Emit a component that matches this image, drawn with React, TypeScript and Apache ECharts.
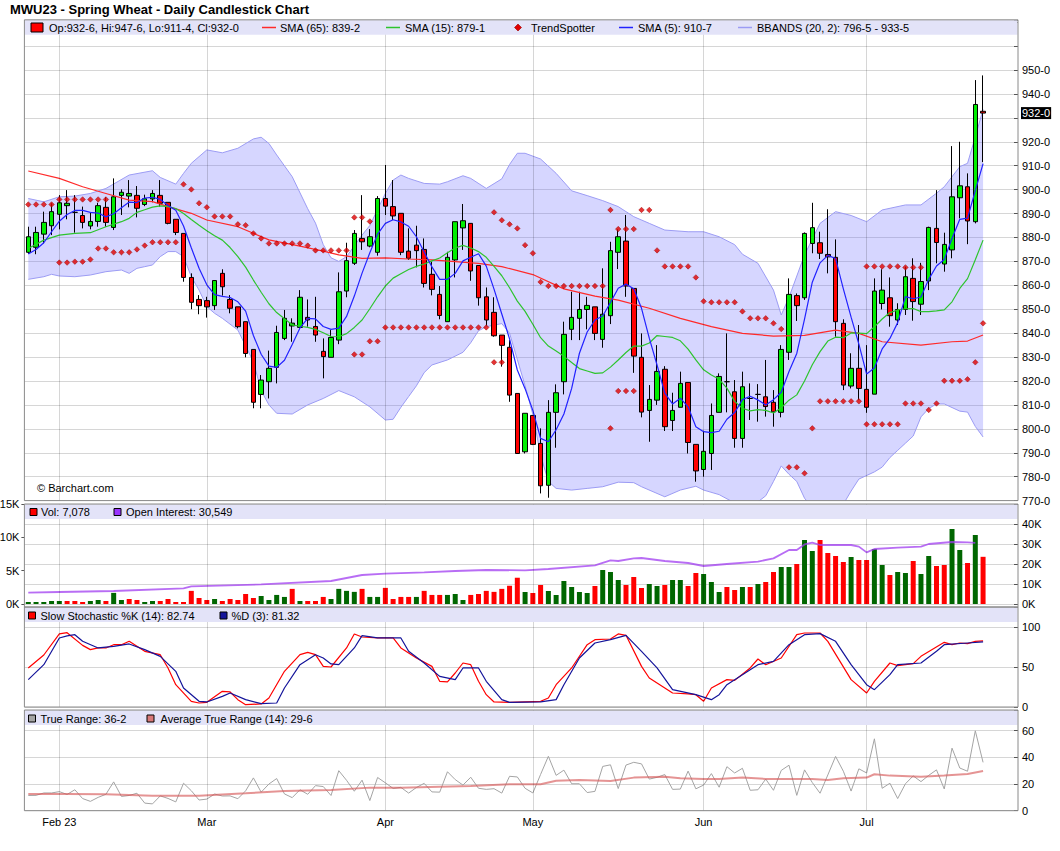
import React, { useEffect, useRef } from "react";
import * as echarts from "echarts";

// ---------- categories (trading days) ----------
const janDays = [26, 27, 30, 31];
const febDays = [1, 2, 3, 6, 7, 8, 9, 10, 13, 14, 15, 16, 17, 21, 22, 23, 24, 27, 28];
const marDays = [1, 2, 3, 6, 7, 8, 9, 10, 13, 14, 15, 16, 17, 20, 21, 22, 23, 24, 27, 28, 29, 30, 31];
const aprDays = [3, 4, 5, 6, 10, 11, 12, 13, 14, 17, 18, 19, 20, 21, 24, 25, 26, 27, 28];
const mayDays = [1, 2, 3, 4, 5, 8, 9, 10, 11, 12, 15, 16, 17, 18, 19, 22, 23, 24, 25, 26, 30, 31];
const junDays = [1, 2, 5, 6, 7, 8, 9, 12, 13, 14, 15, 16, 20, 21, 22, 23, 26, 27, 28, 29, 30];
const julDays = [3, 5, 6, 7, 10, 11, 12, 13, 14, 17, 18, 19, 20, 21, 24, 25];
const padDates = ["2023-07-26", "2023-07-27", "2023-07-28", "2023-07-31"];
const monthLabels = ["Feb 23", "Mar", "Apr", "May", "Jun", "Jul"];

// ---------- price data ----------
const opens = [873.8,875.9,881.4,884.9,889.7,893.3,890.5,889.2,884.8,886.7, 892.6,884.2,897.6,897.3,897.6,893.8,896.1,897.6,894.7,887.6, 881.7,863.3,854.1,853.6,851.5,865.0,854.1,851.0,844.8,833.2, 814.4,819.7,825.7,837.8,843.0,842.4,846.6,842.8,832.4,829.9, 837.1,857.6,869.2,879.6,876.4,873.8,896.3,892.9,890.1,874.3, 876.8,875.0,864.6,856.2,844.8,870.6,884.0,885.9,868.3,855.2, 848.7,839.2,834.1,814.8,790.4,805.6,793.9,776.4,806.9,819.7, 841.6,846.2,849.9,851.0,837.4,847.3,873.8,878.5,858.7,829.9, 807.7,812.0,824.9,803.5,809.0,819.4,793.5,783.0,789.7,806.9, 819.7,815.5,796.0,812.7,814.4,813.4,811.1,806.9,832.0,855.7, 854.8,877.5,877.8,872.9,871.7,844.1,817.9,825.3,816.5,814.5, 852.4,854.8,845.5,849.9,862.9,852.1,861.8,883.8,868.9,874.8, 896.6,901.2,886.6,932.75];
const highs = [884.5,884.5,890.8,894.3,897.7,899.8,897.7,892.9,890.4,894.5, 896.8,904.7,900.1,904.0,901.5,897.9,899.8,904.0,894.7,887.6, 881.7,865.0,855.9,855.2,862.2,866.7,855.9,851.0,844.8,833.2, 822.5,832.7,843.1,849.7,846.2,858.0,854.1,855.2,837.8,841.3, 865.4,877.8,883.1,897.7,883.5,897.3,910.3,904.0,890.1,883.8, 884.9,879.6,869.9,859.7,874.0,886.6,894.0,885.9,868.3,859.1, 855.0,839.2,837.1,814.8,806.5,805.6,800.2,812.0,818.6,844.8, 857.3,857.3,855.2,851.0,867.1,878.2,883.4,889.4,858.7,839.9, 818.3,835.0,826.2,815.1,823.9,819.4,793.5,799.2,810.6,823.2, 839.9,820.4,823.9,819.0,818.7,828.8,816.2,835.0,862.9,856.6, 882.1,894.5,882.4,891.8,879.2,845.8,831.6,843.4,835.0,862.9, 866.7,863.3,852.5,867.8,871.3,869.4,884.5,899.8,882.0,918.2, 920.0,906.8,945.8,947.75];
const lows = [873.1,873.0,877.5,881.0,883.4,887.6,882.0,883.8,883.4,884.5, 884.5,883.1,889.4,892.6,888.4,893.1,894.7,892.9,885.5,881.0, 861.5,850.0,847.9,846.5,849.7,855.7,848.3,842.0,829.9,808.6, 808.6,812.7,819.0,837.1,836.4,842.3,842.7,836.4,821.1,829.9, 835.4,855.0,868.5,874.8,875.9,872.4,889.4,887.3,872.6,870.6, 867.5,859.1,855.8,845.8,844.8,863.3,874.8,861.9,851.5,843.1, 838.5,826.0,811.3,789.5,789.7,793.2,773.0,771.2,792.1,814.4, 837.1,837.1,841.6,837.1,833.9,843.8,866.8,855.2,823.4,804.8, 794.6,810.0,799.1,799.1,809.0,789.7,777.9,780.0,782.8,806.9, 806.9,792.1,792.1,803.7,803.0,805.1,800.9,804.8,828.8,845.1, 853.9,873.4,871.0,865.0,838.5,816.2,816.9,812.0,806.7,814.5, 849.9,842.7,843.4,847.6,845.2,847.6,858.0,869.2,865.7,871.3, 888.0,877.2,885.9,911.5];
const closes = [880.3,882.1,886.3,890.8,894.5,894.3,890.5,886.3,886.7,893.3, 886.3,897.0,898.9,898.4,892.2,896.2,898.4,894.3,885.9,882.1, 863.3,852.9,851.5,851.0,862.0,859.4,850.4,842.7,831.5,811.1, 820.4,825.3,840.3,846.2,844.2,855.0,845.5,839.2,830.2,838.2, 857.3,870.3,881.7,878.2,880.3,896.3,893.1,889.0,873.8,871.3, 874.5,860.8,858.3,847.4,871.7,886.6,887.0,866.0,854.8,845.5, 838.9,834.9,814.1,789.7,806.5,793.5,776.2,806.9,815.1,839.5, 846.6,849.9,851.6,839.9,847.9,874.5,880.3,859.7,830.4,807.0, 812.3,824.0,800.9,807.7,819.0,794.3,782.4,790.6,805.6,821.9, 819.7,796.0,817.6,812.7,814.4,809.3,807.1,833.2,856.2,851.5, 881.7,884.1,873.4,871.9,844.8,818.3,825.3,816.9,809.0,857.6, 858.0,847.3,849.9,863.6,853.2,861.6,884.2,877.9,877.1,897.0, 901.6,886.9,935.6,932.0];

// ---------- studies on price ----------
const sma5 = [873.1,875.0,877.8,882.4,886.8,889.6,891.3,891.3,890.5,890.2, 888.6,889.9,892.4,894.8,894.6,896.5,896.8,895.9,893.4,891.4, 884.8,875.7,867.1,860.2,856.1,855.4,854.9,853.1,849.2,839.0, 831.2,826.2,825.7,828.7,835.3,842.2,846.2,846.0,842.8,841.6, 842.1,847.0,855.5,865.1,873.6,881.4,885.9,887.4,886.5,884.7, 880.3,873.9,867.7,862.5,862.5,865.0,870.2,871.7,873.2,868.0, 858.4,848.0,837.6,824.6,816.8,807.7,796.0,794.6,799.6,806.2, 816.9,831.6,840.5,845.5,847.2,852.8,858.8,860.5,858.6,850.4, 837.9,826.7,814.9,810.4,812.8,809.2,800.9,798.8,798.4,799.0, 804.0,806.8,812.2,813.6,812.1,810.0,812.2,815.3,824.0,831.5, 845.9,861.3,869.4,872.5,871.2,858.5,846.7,835.4,822.9,825.4, 833.4,837.8,844.4,855.3,854.4,855.1,862.5,868.1,870.8,879.6, 887.6,888.1,899.6,910.9];
const sma15 = [875.4,null,878.9,null,881.0,null,881.7,null,882.0,null, 884.5,null,886.6,888.0,890.5,891.6,892.7,893.2,892.9,892.1, 890.0,887.5,885.1,882.8,880.7,878.9,875.8,872.0,867.6,862.2, 857.1,852.3,848.6,846.0,843.5,842.9,842.4,841.6,840.2,838.6, 838.5,839.8,842.4,845.5,850.2,855.2,859.7,863.0,864.8,866.6, 867.9,868.9,870.2,871.4,873.6,875.6,876.7,875.6,874.1,871.7, 867.9,864.0,859.0,853.4,849.1,843.7,838.1,834.6,832.5,830.3, 827.7,825.2,824.2,823.2,823.4,825.8,828.8,831.9,834.6,834.6, 835.9,839.0,838.6,838.2,836.8,833.3,828.8,824.7,822.5,820.7, 817.0,811.5,808.6,807.5,808.0,807.7,806.6,808.8,812.0,814.2, 820.0,826.8,832.3,836.7,838.3,838.1,840.1,840.0,839.8,842.7, 845.9,848.6,849.7,850.2,850.3,849.0,849.0,849.3,849.7,853.1, 858.7,862.8,870.7,878.9];
const sma65 = [[0,907.8],[4,904.7],[7,901.2],[10,898.4],[13,895.6],[16,895.0],[18,892.9],[21,890.1],[23,887.3],[27,884.5],[31,879.0],[35,876.4],[38,874.3],[40,872.7],[43,871.3],[46,871.5],[49,871.0],[52,870.6],[55,869.9],[58,869.2],[61,867.8],[65,864.5],[69,858.5],[73,855.5],[76,853.8],[80,850.4],[84,846.2],[88,842.7],[92,839.9],[96,838.8],[100,839.1],[104,841.3],[107,839.9],[110,836.4],[115,835.0],[119,836.4],[121,836.7],[123,839.25]];
const bbUpper = [[0,896.3],[2,894.9],[4,897.0],[6,897.3],[8,898.4],[10,900.5],[13,906.1],[16,907.9],[17,905.1],[19,902.3],[20,906.8],[21,911.0],[23,916.6],[25,915.4],[27,917.3],[29,921.2],[30,921.9],[31,919.3],[32,914.5],[34,905.4],[36,892.0],[37,886.0],[38,877.0],[39,871.5],[40,870.0],[41,872.0],[42,876.5],[43,881.0],[44,885.0],[46,898.4],[47,904.0],[48,906.1],[49,904.7],[51,902.6],[53,902.3],[54,903.3],[56,905.8],[57,904.7],[59,900.5],[61,904.5],[62,910.5],[63,915.2],[64,915.2],[66,912.8],[68,906.8],[70,899.5],[72,897.5],[74,895.4],[76,892.9],[78,888.7],[80,885.9],[82,883.1],[85,882.4],[87,882.4],[89,880.3],[91,877.0],[92,873.0],[94,869.2],[96,858.0],[97,847.6],[98,855.0],[100,872.7],[102,885.9],[104,890.8],[106,889.2],[108,886.6],[110,891.5],[113,893.6],[115,893.6],[117,898.5],[118,901.2],[120,909.6],[121,911.0],[122,922.1],[123,933.5]];
const bbLower = [[0,862.5],[2,863.6],[3,864.6],[4,863.9],[6,863.6],[8,864.3],[10,865.7],[12,866.4],[13,865.0],[14,867.1],[15,867.8],[16,868.5],[17,872.0],[18,874.1],[19,874.1],[20,872.0],[21,863.6],[22,858.0],[23,851.1],[24,848.3],[25,846.2],[27,841.3],[29,828.0],[30,816.0],[31,810.0],[32,806.5],[34,806.2],[36,810.0],[38,812.7],[40,816.0],[42,813.4],[44,809.2],[46,803.7],[47,804.0],[48,809.0],[49,813.5],[50,818.0],[51,823.5],[52,826.7],[54,828.8],[56,832.0],[57,836.0],[58,841.0],[59,842.7],[61,844.0],[62,840.0],[63,829.0],[64,818.0],[65,806.0],[66,789.0],[67,778.0],[68,775.1],[70,774.4],[72,775.1],[74,775.8],[76,777.7],[78,777.5],[79,775.8],[82,771.6],[84,774.4],[86,776.0],[87,774.4],[89,772.5],[91,769.0],[92,768.0],[93,768.5],[94,769.5],[95,772.0],[96,778.0],[97,784.5],[98,781.0],[99,778.0],[100,771.0],[101,767.0],[103,765.0],[104,766.0],[105,768.5],[106,774.0],[107,779.0],[109,782.0],[110,784.0],[111,788.0],[112,791.0],[113,794.0],[114,797.0],[115,805.0],[116,808.5],[117,810.4],[118,810.4],[120,807.4],[121,807.0],[122,801.0],[123,796.6]];
const trendA = [893.8,893.8,893.8,893.8,895.9,895.9,895.9,895.9,895.9,895.9, 895.9,873.8,873.8,873.8,875.0,876.6,878.0,878.0,878.0,878.0, 902.2,900.1,894.3,892.6,888.8,888.8,888.8,885.5,885.1,881.7, 879.6,877.5,877.5,877.5,877.5,877.5,876.6,874.6,874.6,874.6, 874.6,874.6,888.4,888.4,886.7,836.6,842.4,842.4,842.4,842.4, 842.4,842.4,842.4,842.4,842.4,842.4,842.4,842.4,842.4,842.4, 890.5,887.2,885.5,883.8,876.8,873.4,861.4,859.7,859.7,859.7, 859.7,859.7,859.7,859.7,859.7,891.5,883.5,883.5,883.5,891.5, 891.5,874.6,867.9,867.9,867.9,867.9,863.3,853.3,852.9,852.9, 852.9,852.9,849.1,846.2,846.2,846.2,844.1,841.7,783.9,783.9, 781.4,800.2,811.5,811.5,811.5,811.5,811.5,811.5,867.9,867.9, 867.9,867.9,867.9,867.5,867.5,867.5,807.9,810.6,820.1,820.1, 820.1,820.7,827.8,844.1];
const trendB = [[4,869.5],[5,869.5],[6,869.9],[7,869.9],[8,870.8],[9,875.4],[10,875.4],[42,831.1],[43,831.1],[44,836.6],[60,827.8],[61,827.8],[75,800.2],[76,815.8],[77,815.8],[78,815.8],[108,801.9],[109,801.9],[110,801.9],[111,801.9],[112,801.9],[113,810.6],[114,810.6],[115,810.6]];

// ---------- volume / open interest ----------
const volume = [300,300,300,450,450,450,450,300,450,600, 450,1670,600,750,600,300,450,450,750,300, 300,1970,900,600,750,450,750,600,1500,900, 1200,600,1360,1060,2270,450,450,450,1060,750, 2270,1970,1820,2270,1060,1060,2420,750,1060,1060, 1060,1970,1360,1360,1360,1500,600,1360,1500,1970, 1820,2270,2730,3940,1800,1650,2850,1950,1350,3450, 2550,1800,1650,2700,5100,4800,3600,2850,4050,2400, 3000,2700,2850,3600,3600,2700,4650,4500,3300,1800, 2550,2100,2550,2550,3000,3300,4800,5550,5550,6000, 9600,7950,9600,7650,7200,6300,7050,6600,6600,8250, 5850,4350,4800,4650,6450,4500,7200,5700,5850,11250, 8100,6150,10350,7078];
const openInterest = [[0,5700],[4,6000],[11,6500],[20,7800],[21,8800],[30,9800],[39,11500],[43,14500],[46,15200],[51,15800],[55,16500],[59,17000],[64,16800],[67,17500],[73,19300],[75,21800],[76,21500],[78,22800],[79,23000],[82,21500],[85,20500],[87,19000],[90,20000],[94,21200],[96,22800],[98,27000],[99,27000],[100,29800],[101,30700],[102,29500],[104,29500],[106,29500],[107,28700],[108,25800],[109,27500],[112,28200],[115,28700],[116,30000],[119,31000],[121,30800],[122,30549]];

// ---------- slow stochastic ----------
const stochK = [[0,48.8],[2,65],[4,91.3],[5,92.9],[7,77],[8,71.7],[9,73.8],[10,73.8],[11,77.9],[12,77.9],[13,82.1],[15,69.6],[17,65.4],[18,48.8],[19,27.9],[21,7.1],[22,5],[23,5.8],[25,19.6],[26,18.8],[27,9.2],[28,2.9],[30,3.8],[31,11.3],[33,44.6],[35,65.4],[36,68.3],[37,65.4],[38,50.8],[39,50],[41,73.8],[42,91.3],[43,87.5],[45,86.3],[47,86.3],[48,73.8],[50,61.3],[52,50.8],[53,32.1],[54,31.3],[55,42.5],[56,55],[57,52.9],[58,32.1],[59,15.4],[60,6.3],[62,5.8],[66,7.1],[67,11.3],[68,27.9],[70,48.8],[72,77.9],[73,84.2],[75,85],[76,91.3],[77,89.6],[79,50.8],[80,36.3],[83,17.5],[85,16.3],[86,15.4],[87,7.1],[88,23.8],[90,34.2],[91,33.3],[93,48.8],[94,60],[95,52.9],[97,61.3],[99,90.4],[100,92.5],[102,92.5],[103,82.1],[106,34.2],[108,17.5],[109,32.1],[111,55],[112,51.7],[114,54.2],[115,63.3],[118,80.8],[119,77.9],[120,80],[121,79.2],[122,82.1],[123,82.74]];
const stochD = [[0,34.2],[2,52.9],[4,86.3],[5,89],[6,90.4],[7,82.1],[9,73.8],[11,75.8],[13,78.8],[15,71.7],[17,63.3],[19,44.6],[20,23.8],[22,7.1],[23,6.3],[25,13.3],[26,17.5],[28,9.2],[30,4.2],[32,5],[33,23.8],[35,52.9],[37,65.4],[38,61.3],[39,53.8],[40,52.9],[42,73.8],[43,89.2],[45,86.3],[48,86.3],[49,69.6],[51,55],[53,38.3],[55,34.2],[56,48.8],[58,48.8],[59,32.1],[61,9.2],[62,5.8],[66,6.3],[68,9.2],[69,27.9],[71,61.3],[73,80],[75,84.2],[77,89.6],[79,69.6],[81,48.8],[83,21.7],[86,15.4],[88,9.2],[89,15.4],[90,27.9],[92,40.4],[94,52.9],[96,57.1],[98,77.9],[100,90.4],[102,91.7],[104,82.1],[106,52.9],[108,27.9],[109,21.7],[111,40.4],[112,52.9],[115,55],[117,69.6],[118,77.9],[121,80],[123,81.32]];

// ---------- true range / ATR ----------
const trueRange = [11.4,11.5,13.3,13.3,14.3,12.2,15.7,9.1,7.0,10.0, 12.3,21.6,10.7,11.4,13.1,5.7,5.1,11.1,9.2,6.6, 20.6,15.0,8.0,8.7,12.5,11.0,11.1,9.0,14.9,24.6, 13.9,20.0,24.1,12.6,9.8,15.7,12.3,18.8,18.1,11.4, 30.0,22.8,14.6,22.9,7.6,24.9,20.9,16.7,17.5,13.2, 17.4,20.5,14.1,13.9,29.2,23.3,19.2,25.1,16.8,16.0, 16.5,13.2,25.8,25.3,16.8,13.3,27.2,40.8,26.5,30.4, 20.2,20.2,13.6,14.5,33.2,34.4,16.6,34.2,36.3,35.1, 23.7,25.0,27.1,16.0,16.2,29.7,16.4,19.2,27.8,17.6, 33.0,28.3,31.8,15.3,15.7,23.7,15.3,30.2,34.1,11.5, 30.6,21.1,13.1,26.8,40.7,29.6,14.7,31.4,28.3,53.9, 16.8,20.6,9.1,20.2,26.1,21.8,26.5,30.6,16.3,46.9, 32.0,29.6,59.9,36.25];
const atr = [[0,12.5],[5,12.5],[10,12.3],[16,11.3],[22,11.3],[28,13],[33,14.8],[39,15.5],[44,17.3],[48,17.3],[53,18],[57,18.5],[62,19.8],[66,19.8],[68,22.5],[71,23],[75,22.3],[78,24.8],[82,25.5],[84,24.3],[87,23.8],[89,23.8],[92,24.8],[95,23.8],[97,23.8],[101,23.8],[103,23],[105,24.3],[108,24.8],[109,27.3],[111,26.3],[115,25.5],[118,26.3],[121,27.5],[123,29.75]];

// ---------- build helpers ----------
const pad2 = (n: number) => (n < 10 ? "0" + n : "" + n);
const dates: string[] = [
  ...janDays.map((d) => `2023-01-${pad2(d)}`),
  ...febDays.map((d) => `2023-02-${pad2(d)}`),
  ...marDays.map((d) => `2023-03-${pad2(d)}`),
  ...aprDays.map((d) => `2023-04-${pad2(d)}`),
  ...mayDays.map((d) => `2023-05-${pad2(d)}`),
  ...junDays.map((d) => `2023-06-${pad2(d)}`),
  ...julDays.map((d) => `2023-07-${pad2(d)}`),
];
const axisCats = dates.concat(padDates);
const monthStarts: number[] = [];
dates.forEach((d, i) => {
  if (i > 0 && d.slice(5, 7) !== dates[i - 1].slice(5, 7)) monthStarts.push(i);
});
const labelAt: Record<number, string> = {};
monthStarts.forEach((idx, k) => (labelAt[idx] = monthLabels[k]));

const fmt8 = (v: number) => {
  const w = Math.floor(v);
  return `${w}-${Math.round((v - w) * 8)}`;
};

const FONT = '"Liberation Sans", Arial, Helvetica, sans-serif';
const GL = 24.4;
const GW = 993.6;
const GRIDC = "rgba(0,0,0,0.16)";
const panels = [
  { top: 19.8, height: 480.8, box: 480.8 },
  { top: 504, height: 100, box: 103 },
  { top: 607, height: 100, box: 100 },
  { top: 710, height: 100.7, box: 100.7 },
];

const monthLines = () => ({
  silent: true,
  symbol: ["none", "none"],
  label: { show: false },
  lineStyle: { color: GRIDC, width: 1, type: "solid" },
  emphasis: { disabled: true },
  data: monthStarts.map((i) => ({ xAxis: i })),
});

const lineS = (name: string, data: any, color: string, xi: number, yi: number, extra: any = {}) => ({
  name,
  type: "line",
  xAxisIndex: xi,
  yAxisIndex: yi,
  data,
  showSymbol: false,
  symbol: "none",
  connectNulls: true,
  silent: true,
  lineStyle: { color, width: 1.2 },
  z: 4,
  ...extra,
});

function buildOption() {
  const lastClose = closes[closes.length - 1];

  const xAxes = panels.map((_, gi) => ({
    type: "category",
    gridIndex: gi,
    data: axisCats,
    boundaryGap: true,
    axisLine: { show: false },
    axisTick: { show: false },
    splitLine: { show: false },
    axisLabel:
      gi === 3
        ? {
            show: true,
            interval: (idx: number) => labelAt[idx] !== undefined,
            formatter: (_v: string, idx: number) => labelAt[idx] || "",
            color: "#000",
            fontSize: 11,
            fontFamily: FONT,
            margin: 6,
          }
        : { show: false },
  }));

  const lbl = (fn: (v: number) => string) => ({
    color: "#000",
    fontSize: 11,
    fontFamily: FONT,
    margin: 4,
    formatter: fn,
  });
  const tickIn = { show: true, inside: true, length: 4, lineStyle: { color: "#555" } };

  const yAxes = [
    {
      type: "value", gridIndex: 0, position: "right", min: 770, max: 971, interval: 10,
      axisLine: { show: false }, axisTick: tickIn,
      axisLabel: lbl((v) =>
        v <= 950 && v % 10 === 0 && Math.abs(v - lastClose) > 5 ? `${v}-0` : ""
      ),
      splitLine: { show: true, lineStyle: { color: GRIDC } },
    },
    {
      type: "value", gridIndex: 1, position: "left", min: 0, max: 15000, interval: 5000,
      axisLine: { show: false },
      axisTick: { show: true, inside: false, length: 3, lineStyle: { color: "#555" } },
      axisLabel: { ...lbl((v) => `${v / 1000}K`), margin: 5 },
      splitLine: { show: false },
    },
    {
      type: "value", gridIndex: 1, position: "right", min: 0, max: 50000, interval: 10000,
      axisLine: { show: false }, axisTick: tickIn,
      axisLabel: lbl((v) => (v <= 40000 ? `${v / 1000}K` : "")),
      splitLine: { show: true, lineStyle: { color: GRIDC } },
    },
    {
      type: "value", gridIndex: 2, position: "right", min: 0, max: 125, interval: 50,
      axisLine: { show: false }, axisTick: tickIn,
      axisLabel: lbl((v) => (v % 50 === 0 && v <= 100 ? String(v) : "")),
      splitLine: { show: true, lineStyle: { color: GRIDC } },
    },
    {
      type: "value", gridIndex: 3, position: "right", min: 0, max: 75.5, interval: 20,
      axisLine: { show: false }, axisTick: tickIn,
      axisLabel: lbl((v) => (v % 20 === 0 && v <= 60 ? String(v) : "")),
      splitLine: { show: true, lineStyle: { color: GRIDC } },
    },
  ];

  const candleData = opens.map((o, i) => [o, closes[i], lows[i], highs[i]]);
  const trendData = trendA.map((v, i) => [i, v]).concat(trendB);

  const series: any[] = [
    {
      type: "custom",
      xAxisIndex: 0,
      yAxisIndex: 0,
      clip: true,
      silent: true,
      z: 1,
      data: [[0, bbUpper[0][1]]],
      renderItem: (params: any, api: any) => {
        if (params.dataIndex !== 0) return null;
        const pts = bbUpper
          .map((p) => api.coord(p))
          .concat(bbLower.slice().reverse().map((p) => api.coord(p)));
        return {
          type: "polygon",
          shape: { points: pts },
          style: { fill: "rgba(100,100,255,0.265)" },
        };
      },
    },
    lineS("BB upper", bbUpper, "#9c9cf4", 0, 0, { z: 2, lineStyle: { color: "#9c9cf4", width: 1 }, markLine: monthLines() }),
    lineS("BB lower", bbLower, "#9c9cf4", 0, 0, { z: 2, lineStyle: { color: "#9c9cf4", width: 1 } }),
    {
      type: "candlestick",
      xAxisIndex: 0,
      yAxisIndex: 0,
      data: candleData,
      barWidth: 5,
      silent: true,
      z: 3,
      itemStyle: {
        color: "#00ee00",
        color0: "#ff0000",
        borderColor: "#000",
        borderColor0: "#000",
        borderColorDoji: "#000",
        borderWidth: 1,
      },
    },
    lineS("SMA 65", sma65, "#ff2a2a", 0, 0),
    lineS("SMA 15", sma15, "#2ec42e", 0, 0),
    lineS("SMA 5", sma5, "#2222ff", 0, 0),
    {
      type: "scatter",
      xAxisIndex: 0,
      yAxisIndex: 0,
      data: trendData,
      symbol: "diamond",
      symbolSize: 5.5,
      silent: true,
      z: 5,
      itemStyle: { color: "#e00000", borderColor: "#9a0000", borderWidth: 0.6 },
    },
    {
      // last-price tag on the right axis
      type: "line",
      xAxisIndex: 0,
      yAxisIndex: 0,
      data: [],
      silent: true,
      z: 20,
      markLine: {
        silent: true,
        symbol: ["none", "none"],
        lineStyle: { color: "rgba(0,0,0,0)", width: 1 },
        label: {
          show: true,
          position: "end",
          distance: 3,
          formatter: () => fmt8(lastClose),
          color: "#ffffff",
          backgroundColor: "#000000",
          padding: [1, 1, 0, 1],
          lineHeight: 11,
          fontSize: 11,
          fontFamily: FONT,
        },
        data: [{ yAxis: lastClose }],
      },
    },
    {
      type: "bar",
      xAxisIndex: 1,
      yAxisIndex: 1,
      data: volume,
      barWidth: 5,
      silent: true,
      z: 3,
      itemStyle: {
        color: (p: any) =>
          p.dataIndex === 0 || closes[p.dataIndex] >= closes[p.dataIndex - 1] ? "#006600" : "#ff0000",
      },
      markLine: monthLines(),
    },
    lineS("Open Interest", openInterest, "rgba(160,60,240,0.75)", 1, 2, { lineStyle: { color: "rgba(160,60,240,0.75)", width: 1.8 } }),
    lineS("%K", stochK, "#ff0000", 2, 3, { markLine: monthLines() }),
    lineS("%D", stochD, "#14149a", 2, 3),
    lineS("True Range", trueRange, "#a4a4a4", 3, 4, { lineStyle: { color: "#a4a4a4", width: 1 }, markLine: monthLines() }),
    lineS("ATR", atr, "rgba(215,90,90,0.65)", 3, 4, { lineStyle: { color: "rgba(215,90,90,0.65)", width: 2 } }),
  ];

  // ---------- graphic: borders, legend bars, texts ----------
  const g: any[] = [];
  panels.forEach((p) => {
    g.push({
      type: "rect", silent: true, z: 99,
      shape: { x: GL + 0.5, y: p.top + 0.5, width: GW - 1, height: 14.5 },
      style: { fill: "#e3e3f8" },
    });
    g.push({
      type: "rect", silent: true, z: 100,
      shape: { x: GL, y: p.top, width: GW, height: p.box },
      style: { fill: "none", stroke: "#8a8a8a", lineWidth: 1 },
    });
  });
  const txt = (text: string, x: number, y: number, extra: any = {}) => ({
    type: "text", x, y, silent: true, z: 101,
    style: { text, fill: "#000", fontSize: 11, fontFamily: FONT, align: "left", verticalAlign: "middle", ...extra },
  });
  const sq = (x: number, y: number, w: number, h: number, fill: string) => ({
    type: "rect", silent: true, z: 101,
    shape: { x, y, width: w, height: h },
    style: { fill, stroke: "#000", lineWidth: 1 },
  });
  const seg = (x1: number, x2: number, y: number, color: string) => ({
    type: "line", silent: true, z: 101,
    shape: { x1, y1: y, x2, y2: y },
    style: { stroke: color, lineWidth: 1.5 },
  });

  g.push(txt("MWU23 - Spring Wheat - Daily Candlestick Chart", 10, 9.5, { fontSize: 13, fontWeight: "bold" }));

  const my = 27.5;
  g.push(sq(31, 23, 12, 9, "#ff0000"));
  g.push(txt("Op:932-6, Hi:947-6, Lo:911-4, Cl:932-0", 49, my));
  g.push(seg(262, 276, my, "#ff2a2a"));
  g.push(txt("SMA (65): 839-2", 280, my));
  g.push(seg(386, 400, my, "#2ec42e"));
  g.push(txt("SMA (15): 879-1", 405, my));
  g.push({
    type: "polygon", silent: true, z: 101,
    shape: { points: [[518, my - 3.5], [521.5, my], [518, my + 3.5], [514.5, my]] },
    style: { fill: "#e00000", stroke: "#9a0000", lineWidth: 0.6 },
  });
  g.push(txt("TrendSpotter", 531, my));
  g.push(seg(619, 633, my, "#2222ff"));
  g.push(txt("SMA (5): 910-7", 638, my));
  g.push(seg(738, 752, my, "#9c9cf4"));
  g.push(txt("BBANDS (20, 2): 796-5 - 933-5", 757, my));

  g.push(txt("\u00A9 Barchart.com", 37, 488));

  const vy = 512;
  g.push(sq(30, vy - 3.5, 7, 7, "#ff0000"));
  g.push(txt("Vol: 7,078", 41, vy));
  g.push(sq(114, vy - 3.5, 7, 7, "#9933ff"));
  g.push(txt("Open Interest: 30,549", 126, vy));

  const sy = 615.5;
  g.push(sq(28.5, sy - 3.5, 7, 7, "#ff0000"));
  g.push(txt("Slow Stochastic %K (14): 82.74", 40.5, sy));
  g.push(sq(220, sy - 3.5, 7, 7, "#14149a"));
  g.push(txt("%D (3): 81.32", 231.5, sy));

  const ty = 718.5;
  g.push(sq(28.5, ty - 3.5, 7, 7, "#a4a4a4"));
  g.push(txt("True Range: 36-2", 40.5, ty));
  g.push(sq(147, ty - 3.5, 7, 7, "#d87878"));
  g.push(txt("Average True Range (14): 29-6", 160.5, ty));

  return {
    animation: false,
    backgroundColor: "#ffffff",
    textStyle: { fontFamily: FONT },
    grid: panels.map((p) => ({
      left: GL, width: GW, top: p.top, height: p.height,
      containLabel: false, outerBoundsMode: "none",
    })),
    xAxis: xAxes,
    yAxis: yAxes,
    series,
    graphic: { elements: g },
  };
}

export default function App() {
  const ref = useRef<HTMLDivElement | null>(null);
  useEffect(() => {
    document.body.style.margin = "0";
    if (!ref.current) return;
    const chart = echarts.init(ref.current, undefined, { renderer: "svg" });
    chart.setOption(buildOption() as any);
    return () => chart.dispose();
  }, []);
  return <div ref={ref} style={{ width: 1060, height: 851, background: "#fff" }} />;
}
